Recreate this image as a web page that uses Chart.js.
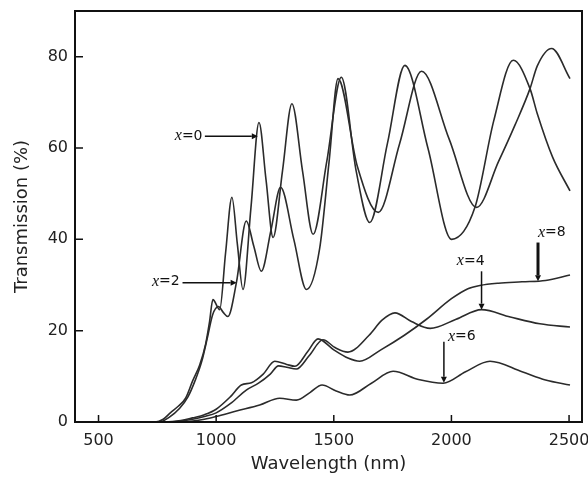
<!DOCTYPE html>
<html>
<head>
<meta charset="utf-8">
<script src="https://cdn.jsdelivr.net/npm/chart.js@4/dist/chart.umd.min.js"></script>
<style>
  html, body { margin: 0; padding: 0; background: #fff; }
  #wrap { width: 588px; height: 478px; }
</style>
</head>
<body>
<div id="wrap"><canvas id="chart" width="588" height="478"></canvas></div>
<script>
// ── Data ──────────────────────────────────────────────────────────────────────
const xTicks = [500, 1000, 1500, 2000, 2500];
const yTicks = [0, 20, 40, 60, 80];

// x = 0
const wl0 = [400, 740, 775, 805, 840, 870, 900, 930, 955, 972, 986, 1015, 1040, 1067, 1090, 1114, 1148, 1182, 1212, 1242, 1282, 1322, 1367, 1412, 1470, 1532, 1595, 1653, 1728, 1802, 1900, 2001, 2100, 2180, 2263, 2334, 2365, 2430, 2504];
const tr0 = [0, 0, 0.6, 2.0, 3.5, 5.2, 9, 12.5, 17, 22, 26.8, 24.6, 37, 49.2, 39, 29, 47, 65.6, 53, 40.4, 55, 69.7, 55, 41.1, 57, 75.5, 55, 43.7, 61, 78.1, 60, 40.0, 47, 66, 79.2, 73, 67.5, 58, 50.6];

// x = 2
const wl2 = [400, 760, 800, 845, 880, 910, 940, 965, 985, 1010, 1030, 1050, 1086, 1128, 1160, 1192, 1233, 1274, 1330, 1384, 1440, 1480, 1518, 1600, 1689, 1780, 1873, 1990, 2107, 2200, 2270, 2334, 2365, 2426, 2504];
const tr2 = [0, 0, 1, 3, 5.5, 9, 13.5, 19, 23.5, 25.3, 24, 23.1, 30.5, 44, 38.5, 33, 42, 51.4, 40, 29, 38, 57, 75.2, 56, 45.9, 61, 76.8, 62, 47, 57, 65, 73, 78, 81.8, 75.2];

// x = 4
const wl4 = [400, 800, 850, 900, 950, 1000, 1060, 1128, 1180, 1230, 1265, 1300, 1341, 1395, 1454, 1505, 1560, 1650, 1705, 1760, 1830, 1910, 2020, 2128, 2250, 2376, 2504];
const tr4 = [0, 0, 0.2, 0.6, 1.2, 2.0, 4, 7, 8.5, 10.5, 12.3, 12, 11.6, 14.5, 18, 16.3, 15.3, 19, 22.3, 23.9, 22, 20.5, 22.5, 24.6, 23, 21.5, 20.8];

// x = 6
const wl6 = [400, 850, 900, 950, 1000, 1086, 1185, 1270, 1341, 1400, 1450, 1510, 1568, 1660, 1752, 1860, 1965, 2060, 2164, 2300, 2400, 2504];
const tr6 = [0, 0, 0.2, 0.6, 1.2, 2.4, 3.7, 5.2, 4.8, 6.5, 8.1, 6.8, 5.9, 8.5, 11.1, 9.3, 8.5, 11, 13.3, 11, 9.2, 8.1];

// x = 8
const wl8 = [400, 780, 850, 900, 950, 1000, 1060, 1107, 1150, 1200, 1249, 1300, 1335, 1390, 1433, 1500, 1560, 1610, 1700, 1800, 1894, 2000, 2070, 2121, 2200, 2300, 2400, 2504];
const tr8 = [0, 0, 0.3, 0.9, 1.6, 2.8, 5.5, 8.1, 8.6, 10.5, 13.3, 12.6, 12.2, 15.5, 18.2, 15.8, 14, 13.3, 15.8, 19, 22.5, 27, 29.2, 29.9, 30.4, 30.7, 31, 32.2];

// Labels with arrows, in data units: text anchor, arrow start and tip
const notes = [
  { label: "0", tx: 942,  ty: 62.6, align: "right", from: [952, 62.6],  to: [1177, 62.6], w: 1.5 },
  { label: "2", tx: 845,  ty: 30.8, align: "right", from: [857, 30.5],  to: [1087, 30.5], w: 1.5 },
  { label: "4", tx: 2141, ty: 35.2, align: "right", from: [2128, 33.0], to: [2128, 24.6], w: 1.5 },
  { label: "6", tx: 1985, ty: 18.7, align: "left",  from: [1968, 17.6], to: [1968, 8.6],  w: 1.5 },
  { label: "8", tx: 2368, ty: 41.5, align: "left",  from: [2368, 39.3], to: [2368, 30.8], w: 3 },
];

const LINE = "#2b2b2b";
const FONT = "'DejaVu Sans', sans-serif";

// ── Plugins ───────────────────────────────────────────────────────────────────
// frame + inward tick marks, placed through the scales
const frame = {
  id: "frame",
  afterDraw(chart) {
    const { ctx, chartArea: a, scales: { x, y } } = chart;
    ctx.save();
    ctx.strokeStyle = "#111";
    ctx.lineWidth = 1.5;
    ctx.beginPath();
    for (const v of xTicks) {
      const px = x.getPixelForValue(v);
      ctx.moveTo(px, a.bottom);
      ctx.lineTo(px, a.bottom - 7);
    }
    for (const v of yTicks) {
      const py = y.getPixelForValue(v);
      ctx.moveTo(a.left, py);
      ctx.lineTo(a.left + 8, py);
    }
    ctx.stroke();
    ctx.lineWidth = 2;
    ctx.strokeRect(a.left, a.top, a.right - a.left, a.bottom - a.top);
    ctx.restore();
  }
};

function drawArrow(ctx, x1, y1, x2, y2, w) {
  const ang = Math.atan2(y2 - y1, x2 - x1);
  const head = 6, half = 3;
  ctx.lineWidth = w;
  ctx.beginPath();
  ctx.moveTo(x1, y1);
  ctx.lineTo(x2 - Math.cos(ang) * head, y2 - Math.sin(ang) * head);
  ctx.stroke();
  ctx.beginPath();
  ctx.moveTo(x2, y2);
  ctx.lineTo(x2 - Math.cos(ang) * head - Math.sin(ang) * half, y2 - Math.sin(ang) * head + Math.cos(ang) * half);
  ctx.lineTo(x2 - Math.cos(ang) * head + Math.sin(ang) * half, y2 - Math.sin(ang) * head - Math.cos(ang) * half);
  ctx.closePath();
  ctx.fill();
}

function drawLabel(ctx, px, py, n, align) {
  const italic = "italic 16px 'Liberation Serif', serif";
  const plain = "14px " + FONT;
  ctx.font = italic;
  const wx = ctx.measureText("x").width;
  ctx.font = plain;
  const wr = ctx.measureText("=" + n).width;
  const start = align === "right" ? px - wx - wr : px;
  ctx.textBaseline = "middle";
  ctx.textAlign = "left";
  ctx.font = italic;
  ctx.fillText("x", start, py);
  ctx.font = plain;
  ctx.fillText("=" + n, start + wx, py);
}

const annotations = {
  id: "annotations",
  afterDraw(chart) {
    const { ctx, scales: { x, y } } = chart;
    ctx.save();
    ctx.strokeStyle = "#111";
    ctx.fillStyle = "#111";
    for (const n of notes) {
      drawArrow(ctx,
        x.getPixelForValue(n.from[0]), y.getPixelForValue(n.from[1]),
        x.getPixelForValue(n.to[0]), y.getPixelForValue(n.to[1]), n.w);
      drawLabel(ctx, x.getPixelForValue(n.tx), y.getPixelForValue(n.ty), n.label, n.align);
    }
    ctx.restore();
  }
};

// ── Chart ─────────────────────────────────────────────────────────────────────
function series(wl, tr) {
  return {
    data: wl.map((w, i) => ({ x: w, y: tr[i] })),
    borderColor: LINE,
    borderWidth: 1.6,
    pointRadius: 0,
    fill: false,
    cubicInterpolationMode: "monotone",
  };
}

new Chart(document.getElementById("chart"), {
  type: "line",
  data: {
    datasets: [
      series(wl0, tr0),
      series(wl2, tr2),
      series(wl4, tr4),
      series(wl6, tr6),
      series(wl8, tr8),
    ]
  },
  options: {
    responsive: false,
    animation: false,
    devicePixelRatio: 1,
    layout: { padding: { left: 0, top: 11, right: 6, bottom: 0 } },
    plugins: { legend: { display: false }, tooltip: { enabled: false } },
    scales: {
      x: {
        type: "linear",
        min: 400,
        max: 2555,
        afterBuildTicks: s => { s.ticks = xTicks.map(v => ({ value: v })); },
        afterFit: s => { s.height = 56; s.paddingLeft = 0; s.paddingRight = 0; },
        grid: { display: false, drawTicks: false },
        border: { display: false },
        ticks: { color: "#222", font: { family: FONT, size: 16 }, padding: 9, maxRotation: 0, callback: v => String(v) },
        title: { display: true, text: "Wavelength (nm)", color: "#222", font: { family: FONT, size: 18 }, padding: { top: 0, bottom: 3 } }
      },
      y: {
        min: 0,
        max: 90,
        afterBuildTicks: s => { s.ticks = yTicks.map(v => ({ value: v })); },
        afterFit: s => { s.width = 75; s.paddingTop = 0; s.paddingBottom = 0; },
        grid: { display: false, drawTicks: false },
        border: { display: false },
        ticks: { color: "#222", font: { family: FONT, size: 16 }, padding: 7, callback: v => String(v) },
        title: { display: true, text: "Transmission (%)", color: "#222", font: { family: FONT, size: 18 }, padding: { top: 12, bottom: 0 } }
      }
    }
  },
  plugins: [frame, annotations]
});
</script>
</body>
</html>
